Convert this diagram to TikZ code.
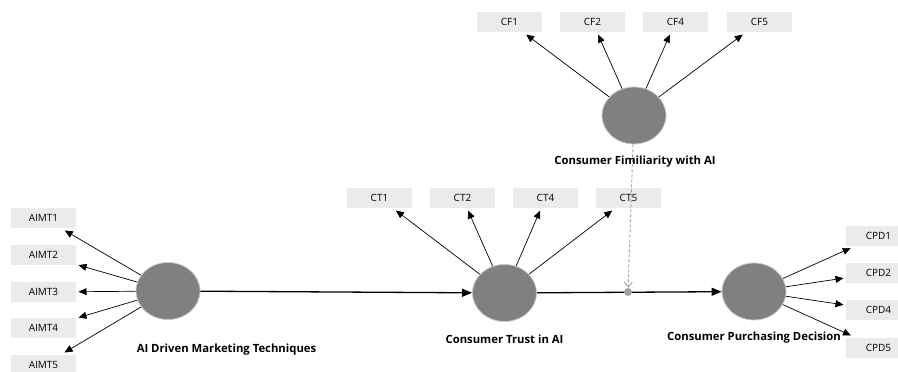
\documentclass[tikz,border=0pt]{standalone}
\usepackage{fontspec}
\setmainfont{Open Sans}
\usetikzlibrary{arrows.meta,shapes.geometric}
\definecolor{latentfill}{HTML}{808080}
\definecolor{latentrim}{HTML}{C8C8C8}
\definecolor{boxfill}{HTML}{EBEBEB}
\definecolor{modgray}{HTML}{A0A0A0}

\begin{document}
\begin{tikzpicture}[x=1pt,y=-1pt,
  latent/.style={ellipse, fill=latentfill, draw=latentrim, line width=0.8pt,
    minimum width=64pt, minimum height=57pt, inner sep=0pt},
  indicator/.style={rectangle, fill=boxfill, minimum width=65pt, minimum height=20pt,
    inner sep=0pt, outer sep=2.5pt, font=\fontsize{10}{12}\selectfont},
  lvlabel/.style={font=\bfseries\fontsize{11.3}{13}\selectfont},
  loading/.style={-{Triangle[length=8pt,width=7pt]}, line width=0.7pt},
  structural/.style={-{Triangle[length=10pt,width=8pt]}, line width=1.3pt},
  moderation/.style={modgray, line width=0.9pt, dash pattern=on 3pt off 2pt,
    -{Straight Barb[length=5pt,width=8pt]}},
]
\useasboundingbox (0,0) rectangle (898,372);
\clip (0,0) rectangle (898,372);

% latent variables
\node[latent] (aimt) at (168,291) {};
\node[latent] (ct)   at (504.5,293) {};
\node[latent] (cf)   at (634,115.5) {};
\node[latent] (cpd)  at (754,291.5) {};

% latent variable names
\node[lvlabel] at (226.5,350) {AI Driven Marketing Techniques};
\node[lvlabel] at (504.5,339) {Consumer Trust in AI};
\node[lvlabel] at (635,162) {Consumer Fimiliarity with AI};
\node[lvlabel] at (754,338) {Consumer Purchasing Decision};

% indicators of AI driven marketing techniques
\node[indicator] (aimt1) at (43.5,218) {AIMT1};
\node[indicator] (aimt2) at (43.5,255) {AIMT2};
\node[indicator] (aimt3) at (43.5,292) {AIMT3};
\node[indicator] (aimt4) at (43.5,328) {AIMT4};
\node[indicator] (aimt5) at (43.5,365) {AIMT5};

% indicators of consumer trust
\node[indicator] (ct1) at (379.5,198) {CT1};
\node[indicator] (ct2) at (462.5,198) {CT2};
\node[indicator] (ct4) at (545.5,198) {CT4};
\node[indicator] (ct5) at (628.5,198) {CT5};

% indicators of consumer familiarity
\node[indicator] (cf1) at (509.5,22) {CF1};
\node[indicator] (cf2) at (592.5,22) {CF2};
\node[indicator] (cf4) at (675.5,22) {CF4};
\node[indicator] (cf5) at (759.5,22) {CF5};

% indicators of purchasing decision
\node[indicator] (cpd1) at (878.5,235.5) {CPD1};
\node[indicator] (cpd2) at (878.5,273) {CPD2};
\node[indicator] (cpd4) at (878.5,310) {CPD4};
\node[indicator] (cpd5) at (878.5,348) {CPD5};

% outer loadings
\foreach \i in {aimt1,aimt2,aimt3,aimt4,aimt5} \draw[loading] (aimt) -- (\i);
\foreach \i in {ct1,ct2,ct4,ct5} \draw[loading] (ct) -- (\i);
\foreach \i in {cf1,cf2,cf4,cf5} \draw[loading] (cf) -- (\i);
\foreach \i in {cpd1,cpd2,cpd4,cpd5} \draw[loading] (cpd) -- (\i);

% structural paths
\draw[structural] (aimt) -- (ct);
\draw[structural] (ct) -- (cpd);

% moderating effect
\node[circle, fill=modgray, minimum size=8pt, inner sep=0pt] (mod) at (628,292) {};
\draw[moderation] (cf) -- (mod);
\end{tikzpicture}
\end{document}
